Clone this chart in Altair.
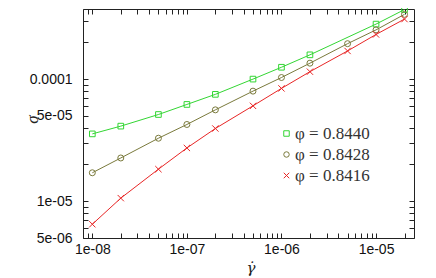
import altair as alt
import pandas as pd

# ---- data ----
series_labels = ["φ = 0.8440", "φ = 0.8428", "φ = 0.8416"]
series_keys = ["s1", "s2", "s3"]
series_colors = ["#33d633", "#7a7a3c", "#e82626"]
series_shapes = ["square", "circle", "M-1,-1L1,1M-1,1L1,-1"]
series_sizes = [32, 40, 49]

x_0840 = [1e-8, 2e-8, 5e-8, 1e-7, 2e-7, 5e-7, 1e-6, 2e-6, 1e-5, 2e-5]
y_0840 = [3.56e-5, 4.12e-5, 5.13e-5, 6.2e-5, 7.5e-5, 1.0e-4, 1.25e-4, 1.58e-4, 2.82e-4, 3.71e-4]

x_0828 = [1e-8, 2e-8, 5e-8, 1e-7, 2e-7, 5e-7, 1e-6, 2e-6, 5e-6, 1e-5, 2e-5]
y_0828 = [1.71e-5, 2.26e-5, 3.28e-5, 4.25e-5, 5.6e-5, 7.97e-5, 1.03e-4, 1.35e-4, 1.95e-4, 2.53e-4, 3.39e-4]

x_0816 = [1e-8, 2e-8, 5e-8, 1e-7, 2e-7, 5e-7, 1e-6, 2e-6, 5e-6, 1e-5, 2e-5]
y_0816 = [6.48e-6, 1.06e-5, 1.83e-5, 2.73e-5, 3.94e-5, 6.04e-5, 8.39e-5, 1.15e-4, 1.70e-4, 2.32e-4, 3.1e-4]

x_domain = [7.97e-9, 2.52e-5]
y_domain = [5e-6, 3.749e-4]

x_label_values = [1e-8, 1e-7, 1e-6, 1e-5]
x_tick_labels = ["1e-08", "1e-07", "1e-06", "1e-05"]
y_label_values = [5e-6, 1e-5, 5e-5, 1e-4]
y_tick_labels = ["5e-06", "1e-05", "5e-05", "0.0001"]


def in_range(v, dom):
    return dom[0] * (1 - 1e-9) <= v <= dom[1] * (1 + 1e-9)


x_ticks = [float(f"{k}e{e}") for e in range(-9, -4) for k in range(1, 10)]
x_ticks = [v for v in x_ticks if in_range(v, x_domain)]
y_ticks = [float(f"{k}e{e}") for e in range(-6, -3) for k in range(1, 10)]
y_ticks = [v for v in y_ticks if in_range(v, y_domain)]

rows = []
for lab, key, xs_, ys_ in zip(series_labels, series_keys, [x_0840, x_0828, x_0816], [y_0840, y_0828, y_0816]):
    for a, b in zip(xs_, ys_):
        rows.append({"x": a, "y": b, "series": lab, "key": key})
df = pd.DataFrame(rows)

W, H = 331, 229
TICK = "#222222"


def label_expr(vals, labs):
    expr = "''"
    for v, l in reversed(list(zip(vals, labs))):
        expr = f"(abs(datum.value - {v!r}) < {v!r} * 1e-6 ? '{l}' : {expr})"
    return expr


xs = alt.Scale(type="log", domain=x_domain, nice=False)
ys = alt.Scale(type="log", domain=y_domain, nice=False)

x_label_axis = alt.Axis(orient="bottom", values=x_ticks,
                        labelExpr=label_expr(x_label_values, x_tick_labels),
                        ticks=True, tickSize=alt.ExprRef(expr="-5"), tickColor=TICK, tickWidth=1,
                        domain=False, grid=False, labelPadding=9, labelOverlap=False, labelFlush=False,
                        labelFont="Liberation Sans", labelFontSize=14, labelColor="#111111",
                        title="γ̇", titleFont="DejaVu Serif", titleFontStyle="italic",
                        titleFontSize=15, titleFontWeight="normal", titleColor="#222222",
                        titleBaseline="alphabetic", titleY=34, titleX=W / 2 + 2, titleAlign="center")
y_label_axis = alt.Axis(orient="left", values=y_ticks,
                        labelExpr=label_expr(y_label_values, y_tick_labels),
                        ticks=True, tickSize=alt.ExprRef(expr="-5"), tickColor=TICK, tickWidth=1,
                        domain=False, grid=False, labelPadding=16, labelOverlap=False, labelFlush=False,
                        labelFont="Liberation Sans", labelFontSize=14, labelColor="#111111",
                        title="σ", titleFont="Liberation Serif", titleFontStyle="italic",
                        titleFontSize=17, titleFontWeight="normal", titleColor="#222222",
                        titleAngle=270, titleX=-51, titleY=110, titleAlign="center",
                        titleBaseline="middle")

x_top_axis = alt.Axis(orient="top", values=x_ticks, labels=False, ticks=True,
                      tickSize=alt.ExprRef(expr="-5"), tickColor=TICK, tickWidth=1,
                      domain=False, grid=False, title=None)
y_right_axis = alt.Axis(orient="right", values=y_ticks, labels=False, ticks=True,
                        tickSize=alt.ExprRef(expr="-5"), tickColor=TICK, tickWidth=1,
                        domain=False, grid=False, title=None)

lines = alt.Chart(df).mark_line(strokeWidth=1).encode(
    x=alt.X("x:Q", scale=xs, axis=x_label_axis),
    y=alt.Y("y:Q", scale=ys, axis=y_label_axis),
    stroke=alt.Stroke("key:N", scale=alt.Scale(domain=series_keys, range=series_colors), legend=None),
    detail="key:N",
)

legend = alt.Legend(orient="none", legendX=195, legendY=116, title=None, padding=0,
                    labelFont="Liberation Serif", labelFontSize=17, labelColor="#333333",
                    symbolSize=30, symbolStrokeWidth=1, labelOffset=0, rowPadding=3,
                    labelLimit=300)

points = alt.Chart(df).mark_point(filled=False, strokeWidth=1, opacity=1).encode(
    x=alt.X("x:Q", scale=xs, axis=x_top_axis),
    y=alt.Y("y:Q", scale=ys, axis=y_right_axis),
    color=alt.Color("series:N", scale=alt.Scale(domain=series_labels, range=series_colors), legend=legend),
    shape=alt.Shape("series:N", scale=alt.Scale(domain=series_labels, range=series_shapes), legend=legend),
    size=alt.Size("key:N", scale=alt.Scale(domain=series_keys, range=series_sizes), legend=None),
)

chart = alt.layer(lines, points).resolve_axis(x="independent", y="independent").properties(
    width=W, height=H,
    autosize=alt.AutoSizeParams(type="none"),
    padding={"left": 75, "top": 1, "right": 14, "bottom": 40},
    background="white",
).configure_view(stroke=TICK, strokeWidth=1)

chart.save("out.html", embed_options={"renderer": "svg", "actions": False})
